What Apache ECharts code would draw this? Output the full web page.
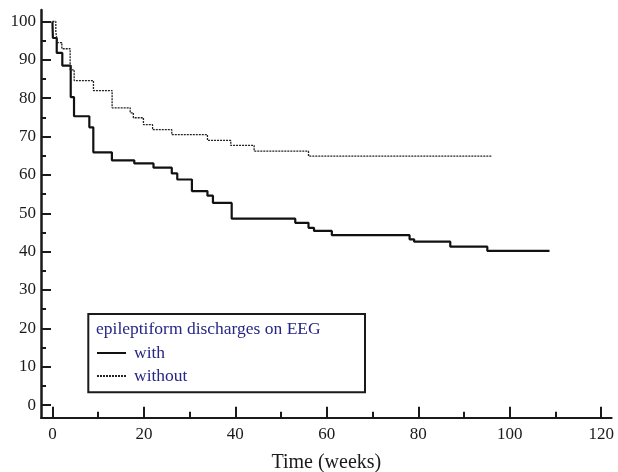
<!DOCTYPE html>
<html>
<head>
<meta charset="utf-8">
<script src="https://cdn.jsdelivr.net/npm/echarts@6/dist/echarts.min.js"></script>
<style>
html,body{margin:0;padding:0;background:#fff;}
#chart{width:618px;height:472px;}
</style>
</head>
<body>
<div id="chart"></div>
<script>
// ---- data ----
const withTimes   = [0, 0.1, 0.94, 2.16, 4.0, 4.72, 8.07, 8.94, 13.0, 17.9, 22.1, 26.1, 27.3, 30.5, 33.9, 35.1, 39.2, 53.1, 56.0, 57.2, 61.1, 78.1, 79.1, 87.0, 95.1, 108.7];
const withValues  = [100, 95.7, 91.8, 88.5, 80.3, 75.3, 72.4, 65.9, 63.8, 63.0, 61.9, 60.4, 58.8, 55.8, 54.6, 52.7, 48.6, 47.5, 46.2, 45.4, 44.3, 43.2, 42.6, 41.3, 40.2, 40.2];
const withoutTimes  = [0, 0.74, 1.1, 2.06, 3.87, 4.75, 8.97, 13.05, 17.0, 17.7, 19.9, 21.9, 26.1, 33.9, 39.0, 44.1, 56.0, 96.1];
const withoutValues = [100, 97.2, 94.5, 92.9, 87.4, 84.6, 82.0, 77.5, 76.2, 74.9, 73.1, 71.8, 70.5, 69.0, 67.7, 66.2, 64.9, 64.9];

const xMajorTicks = [0, 20, 40, 60, 80, 100, 120];
const xMinorTicks = [10, 30, 50, 70, 90, 110];
const yMajorTicks = [0, 10, 20, 30, 40, 50, 60, 70, 80, 90, 100];
const yMinorTicks = [5, 15, 25, 35, 45, 55, 65, 75, 85, 95];

const seriesNames = ['with', 'without'];
const legendTitle = 'epileptiform discharges on EEG';
const xAxisName = 'Time (weeks)';

const zip = (a, b) => a.map((v, i) => [v, b[i]]);

const serif = '"Liberation Serif", "DejaVu Serif", serif';
const INK = '#1a1a1a';
const X_MIN = -2.5, X_MAX = 122.3, Y_MIN = -3.3, Y_MAX = 103;

function tickAxis(min, max, values, len, pos) {
  return {
    type: 'value', min: min, max: max, position: pos,
    axisLine: {show: false, onZero: false},
    axisTick: {show: true, inside: true, length: len, customValues: values, lineStyle: {color: INK, width: 2}},
    axisLabel: {show: false},
    splitLine: {show: false}
  };
}

const chart = echarts.init(document.getElementById('chart'), null, {renderer: 'canvas'});
chart.setOption({
  animation: false,
  backgroundColor: '#fff',
  grid: {left: 41, right: 6.3, top: 10, bottom: 54.3, containLabel: false, outerBoundsMode: 'none'},
  xAxis: [
    {
      type: 'value', min: X_MIN, max: X_MAX, position: 'bottom',
      name: xAxisName, nameLocation: 'middle', nameGap: 35,
      nameTextStyle: {fontFamily: serif, fontSize: 20, color: INK},
      axisLine: {show: true, onZero: false, lineStyle: {color: INK, width: 2}},
      axisTick: {show: false},
      axisLabel: {show: true, customValues: xMajorTicks, margin: 8, fontFamily: serif, fontSize: 17, color: INK},
      splitLine: {show: false}
    },
    tickAxis(X_MIN, X_MAX, xMajorTicks, 11, 'bottom'),
    tickAxis(X_MIN, X_MAX, xMinorTicks, 6, 'bottom')
  ],
  yAxis: [
    {
      type: 'value', min: Y_MIN, max: Y_MAX, position: 'left',
      axisLine: {show: true, onZero: false, lineStyle: {color: INK, width: 2.5}},
      axisTick: {show: false},
      axisLabel: {show: true, customValues: yMajorTicks, margin: 5, fontFamily: serif, fontSize: 17, color: INK},
      splitLine: {show: false}
    },
    tickAxis(Y_MIN, Y_MAX, yMajorTicks, 10, 'left'),
    tickAxis(Y_MIN, Y_MAX, yMinorTicks, 5, 'left')
  ],
  legend: {
    show: true, orient: 'vertical', left: 96, top: 344, padding: 0,
    itemWidth: 29, itemHeight: 14, itemGap: 5,
    itemStyle: {opacity: 0, borderWidth: 0},
    textStyle: {fontFamily: serif, fontSize: 17.5, lineHeight: 18, color: '#262686', padding: [0, 0, 0, 3]},
    data: seriesNames
  },
  graphic: [
    {
      type: 'rect', z: 0,
      shape: {x: 88.3, y: 314, width: 276.7, height: 78.3},
      style: {fill: '#fff', stroke: INK, lineWidth: 2}
    },
    {
      type: 'text', z: 1,
      style: {x: 96, y: 329.5, text: legendTitle, font: '17.5px ' + serif, fill: '#262686', verticalAlign: 'middle', align: 'left'}
    }
  ],
  series: [
    {
      name: seriesNames[0], type: 'line', step: 'end', symbol: 'none', xAxisIndex: 0, yAxisIndex: 0,
      lineStyle: {color: '#111', width: 2.2, type: 'solid'}, itemStyle: {color: '#111'},
      data: zip(withTimes, withValues)
    },
    {
      name: seriesNames[1], type: 'line', step: 'end', symbol: 'none', xAxisIndex: 0, yAxisIndex: 0,
      lineStyle: {color: '#222', width: 1.3, type: [2, 1]}, itemStyle: {color: '#222'},
      data: zip(withoutTimes, withoutValues)
    }
  ]
});
</script>
</body>
</html>
